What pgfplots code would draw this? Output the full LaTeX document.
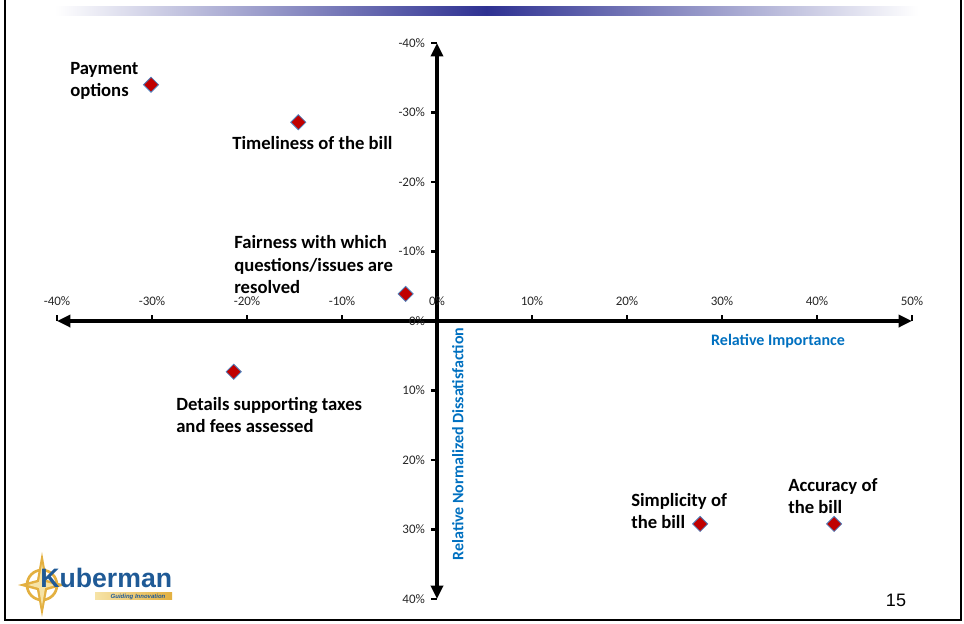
\documentclass[border=0pt]{standalone}
\usepackage{pgfplots}
\pgfplotsset{compat=1.18}
\usepackage{fontspec}
\setmainfont{Carlito}
\newfontfamily\arialfont{Liberation Sans}
\usetikzlibrary{arrows.meta}
\definecolor{markred}{HTML}{C00000}
\definecolor{markedge}{HTML}{4F81BD}
\definecolor{labelblue}{HTML}{0070C0}
\definecolor{barnavy}{HTML}{2E3192}
\definecolor{logoblue}{HTML}{1F5A96}
\definecolor{logogold}{HTML}{E3B041}
\definecolor{logolight}{HTML}{F6E3A6}

\begin{document}
\begin{tikzpicture}[x=0.75pt,y=0.75pt]
\path[use as bounding box] (0,0) rectangle (964,624);
% slide frame
\draw[line width=1.5pt] (5,624) -- (5,4) -- (961,4) -- (961,624);
% banner gradient
\shade[left color=white, right color=white, middle color=barnavy] (55,608) rectangle (918,617);

\begin{axis}[
  at={(42.75pt,18.75pt)}, anchor=south west,
  scale only axis, width=641.25pt, height=417pt,
  xmin=-40, xmax=50, ymin=-40, ymax=40, y dir=reverse,
  axis lines=center,
  clip=false,
  axis line style={line width=3pt, black},
  every inner x axis line/.append style={{Triangle[length=10pt,width=9pt]}-{Triangle[length=10pt,width=9pt]}},
  every inner y axis line/.append style={{Triangle[length=10pt,width=9pt]}-{Triangle[length=10pt,width=9pt]}},
  xtick={-40,-30,-20,-10,0,10,20,30,40,50},
  xticklabels={-40\%,-30\%,-20\%,-10\%,0\%,10\%,20\%,30\%,40\%,50\%},
  ytick={-40,-30,-20,-10,0,10,20,30,40},
  yticklabels={-40\%,-30\%,-20\%,-10\%,0\%,10\%,20\%,30\%,40\%},
  hide obscured x ticks=false, hide obscured y ticks=false,
  tick style={black, line width=2pt},
  major tick length=4.5pt,
  tick align=outside,
  tick label style={font=\fontsize{9.75}{11}\selectfont, text=black!85},
  xticklabel style={anchor=south, yshift=12.5pt},
  yticklabel style={xshift=-1pt},
  xlabel={Relative Importance},
  ylabel={Relative Normalized Dissatisfaction},
  label style={font=\fontsize{12}{14}\selectfont\bfseries, text=labelblue},
  xlabel style={at={(axis cs:35.9,2.87)}, anchor=center},
  ylabel style={at={(axis cs:2.2,17.7)}, anchor=center, rotate=90},
]
\addplot[only marks, mark=square*, mark size=4pt,
  mark options={rotate=45, fill=markred, draw=markedge, line width=0.6pt}]
  coordinates {(-30.1,-34.0) (-14.6,-28.6) (-3.3,-3.9) (-21.4,7.3) (27.7,29.2) (41.8,29.2)};
\end{axis}

% point labels (anchored at the baseline of their last line)
\begin{scope}[every node/.style={font=\fontsize{14}{17.2}\selectfont\bfseries, align=left, inner sep=0pt, anchor=base west}]
\node at (70,527) {Payment\\options};
\node at (232,474) {Timeliness of the bill};
\node at (234,330) {Fairness with which\\questions/issues are\\resolved};
\node at (176,191) {Details supporting taxes\\and fees assessed};
\node at (631,95) {Simplicity of\\the bill};
\node at (788,110) {Accuracy of\\the bill};
\end{scope}

% page number
\node[font=\arialfont\fontsize{13.5}{16}\selectfont] at (896,24) {15};

% logo
\draw[logogold, line width=2pt] (42,39) circle (15);
\fill[logogold] (42,72) -- (47,44) -- (66,39) -- (47,34) -- (42,7) -- (37,34) -- (18,39) -- (37,44) -- cycle;
\fill[logolight] (42,60) -- (45,42) -- (56,39) -- (45,36) -- (42,18) -- (39,36) -- (28,39) -- (39,42) -- cycle;
\shade[left color=logolight, right color=logogold] (95,24) rectangle (172,31);
\node[font=\arialfont\fontsize{4.5}{5}\selectfont\bfseries\itshape, text=logoblue, inner sep=0pt] at (138,27) {Guiding Innovation};
\node[font=\arialfont\fontsize{20}{22}\selectfont\bfseries, text=logoblue, anchor=base west, inner sep=0pt] at (40,36) {Kuberman};
\end{tikzpicture}
\end{document}
